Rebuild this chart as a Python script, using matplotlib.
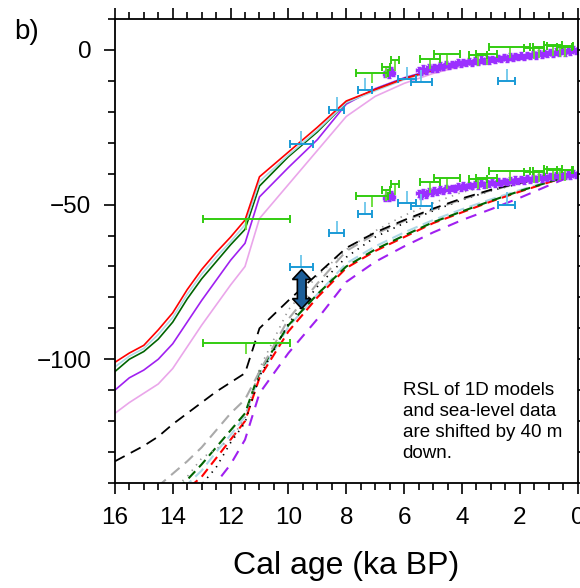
import matplotlib
matplotlib.use("Agg")
import matplotlib.pyplot as plt
import numpy as np
from matplotlib.ticker import MultipleLocator
from matplotlib.patches import Polygon

plt.rcParams["font.family"] = ["Liberation Sans", "DejaVu Sans"]
plt.rcParams["lines.scale_dashes"] = False

# model ages (ka BP)
ages = [16, 15.5, 15, 14.5, 14, 13.5, 13, 12.5, 12, 11.5, 11, 10, 9, 8, 7, 6, 5, 4, 3, 2, 1, 0]

# upper group: 3D models (solid)
red_s = [-101, -98, -95.5, -90.5, -85, -77.5, -71, -65.5, -60.5, -55, -41, -33, -25, -16.5, -12.8, -9.3, -6.6, -4.6, -3.1, -1.9, -0.9, 0]
lblue_s = [-102.5, -99, -96.5, -92, -86.5, -79, -72.5, -67, -62, -56.5, -42.5, -34, -26, -17, -13.2, -9.6, -6.9, -4.9, -3.3, -2.0, -1.0, 0]
green_s = [-104, -100, -97.5, -93.5, -88, -80.5, -74, -68.5, -63, -58, -44, -34.5, -26.5, -17, -12.8, -9.3, -6.6, -4.6, -3.1, -1.9, -0.9, 0]
purple_s = [-110, -106, -103.5, -100, -95, -88, -81, -74.5, -68, -62.5, -47.5, -38, -29, -17.5, -12.5, -9, -6.3, -4.4, -3.0, -1.8, -0.8, 0]
pink_s = [-117.5, -114, -111, -108, -103, -96, -89, -82.5, -76, -70, -54.5, -43.5, -32.5, -21.5, -15, -10.8, -7.6, -5.2, -3.5, -2.2, -1.1, -0.3]

# lower group: 1D models, shifted 40 m down (dashed / dotted)
red_d = [-158, -155, -152, -149, -146, -142, -138, -132, -126, -120, -106, -91, -80, -70.5, -65, -60.5, -56, -52.5, -49, -45.8, -42.8, -40]
lblue_d = [-157, -154, -151, -148, -144.5, -140.5, -136, -130, -124.5, -118.5, -105, -89.5, -79, -69, -63.5, -59, -55, -51.5, -48.3, -45.3, -42.5, -40]
green_d = [-156, -153, -150, -147, -143, -139, -134, -128.5, -123, -117.5, -104, -89, -79, -70, -64.5, -60, -55.7, -52.2, -48.8, -45.6, -42.7, -40]
purple_d = [-165, -162, -158, -155, -152, -148, -144, -140, -134, -126, -111, -98, -87, -75, -68.5, -63.5, -59, -55, -51.5, -47.8, -43.8, -40]
black_dash = [-133, -130.5, -128, -125, -121, -117.5, -114, -110.5, -107.5, -104.5, -90, -81, -72.5, -64, -59, -55, -51.3, -48, -45.2, -43, -41.3, -40]
gray_dash = [-152, -149, -145.5, -141, -137, -133, -128.5, -123, -117.5, -113, -104, -87, -75.5, -65, -59.5, -55.3, -51.6, -48.3, -45.4, -43.1, -41.4, -40]
black_dot = [-158, -155, -152, -149.5, -147, -143.5, -140.5, -135, -127, -120.5, -105.5, -88.5, -76.5, -67, -60.5, -56, -52, -48.5, -45.5, -43.2, -41.5, -40]
gray_dot = [-155, -152, -149, -146, -142, -138, -132, -129, -126, -119, -103, -84, -73, -64.5, -58.5, -53.5, -49.5, -46, -43.8, -42.2, -41, -40]

# sea-level data (unshifted)
grn_age = [11.45, 7.12, 6.63, 6.32, 5.1, 4.53, 3.45, 3.15, 2.35, 1.5, 1.35, 0.85, 0.6, 0.45]
grn_rsl = [-54.7, -7.3, -5.4, -3.3, -2.8, -1.4, -1.6, -1.4, 1.0, 0.6, 0.9, 1.5, 1.3, 1.1]
grn_err = [1.5, 0.55, 0.15, 0.15, 0.35, 0.45, 0.3, 0.35, 0.7, 0.35, 0.2, 0.3, 0.45, 0.25]

blu_age = [9.55, 8.33, 7.36, 5.9, 5.4, 2.45]
blu_rsl = [-30.3, -19.3, -13.0, -9.5, -10.5, -10.0]
blu_err = [0.4, 0.25, 0.25, 0.3, 0.35, 0.3]

pur_age = [6.66, 6.58, 6.52, 6.46, 6.4, 5.5, 5.42, 5.33, 5.25, 5.15, 5.05, 4.95, 4.85, 4.75, 4.65,
           4.55, 4.45, 4.35, 4.25, 4.15, 4.05, 3.95, 3.85, 3.75, 3.65, 3.55, 3.45, 3.35, 3.25, 3.15,
           3.05, 2.95, 2.85, 2.75, 2.65, 2.55, 2.45, 2.35, 2.25, 2.15, 2.05, 1.95, 1.85, 1.75, 1.65,
           1.55, 1.45, 1.35, 1.25, 1.15, 1.05, 0.95, 0.85, 0.75, 0.65, 0.55, 0.45, 0.35, 0.25, 0.15, 0.05]
pur_rsl = [-7.8, -7.0, -7.9, -6.6, -7.4, -6.4, -7.2, -6.0, -6.8, -5.6, -6.2, -5.4, -6.0, -4.9, -5.6,
           -4.6, -5.1, -4.5, -4.8, -4.0, -4.6, -3.8, -4.3, -3.6, -4.1, -3.4, -3.8, -3.1, -3.6, -2.9,
           -3.4, -2.8, -3.3, -2.5, -3.0, -2.3, -2.8, -2.1, -2.6, -1.9, -2.4, -1.8, -2.2, -1.5, -2.0,
           -1.3, -1.8, -1.1, -1.6, -0.9, -1.4, -0.7, -1.2, -0.5, -1.0, -0.3, -0.8, -0.1, -0.6, 0.2, -0.3]

shift = -40.0

fig = plt.figure(figsize=(5.8, 5.88), dpi=100)
ax = fig.add_axes([0.198, 0.1786, 0.798, 0.789])

# upper (solid) models
ax.plot(ages, pink_s, color="#eaa6ea", lw=1.2)
ax.plot(ages, purple_s, color="#a020f0", lw=1.2)
ax.plot(ages, green_s, color="#006400", lw=1.2)
ax.plot(ages, lblue_s, color="#add8e6", lw=1.2)
ax.plot(ages, red_s, color="red", lw=1.2)

# lower (shifted) models
ax.plot(ages, purple_d, color="#a020f0", lw=1.5, dashes=(8, 6))
ax.plot(ages, lblue_d, color="#add8e6", lw=1.5, dashes=(8, 4))
ax.plot(ages, red_d, color="red", lw=1.5, dashes=(7, 4))
ax.plot(ages, green_d, color="#006400", lw=1.5, dashes=(7, 4))
ax.plot(ages, black_dot, color="black", lw=1.2, dashes=(1, 4))
ax.plot(ages, gray_dot, color="#999999", lw=1.2, dashes=(1, 4))
ax.plot(ages, gray_dash, color="#aaaaaa", lw=1.5, dashes=(8, 5))
ax.plot(ages, black_dash, color="black", lw=1.3, dashes=(8, 5))

# data, unshifted and shifted
for off in [0.0, shift]:
    g_y = [v + off for v in grn_rsl]
    b_y = [v + off for v in blu_rsl]
    p_y = [v + off for v in pur_rsl]
    ax.errorbar(pur_age, p_y, xerr=0.08, yerr=1.0, fmt="none", ecolor="#9b30ff",
                elinewidth=2.2, capsize=1.5)
    ax.vlines(grn_age, g_y, [v - 3.5 for v in g_y], color="#66dd33", lw=1.3)
    ax.errorbar(grn_age, g_y, xerr=grn_err, fmt="none", ecolor="#33cc11",
                elinewidth=1.4, capsize=3, capthick=1.4)
    ax.vlines(blu_age, b_y, [v + 4 for v in b_y], color="#6cc6ea", lw=1.3)
    ax.errorbar(blu_age, b_y, xerr=blu_err, fmt="none", ecolor="#1a9ad6",
                elinewidth=1.4, capsize=3, capthick=1.4)

# double-headed arrow (offset indicator)
arr_x, arr_top, arr_bot = 9.54, -71.0, -83.6
body_w, head_w, head_l = 0.15, 0.32, 3.2
pts = [(arr_x, arr_top), (arr_x + head_w, arr_top - head_l), (arr_x + body_w, arr_top - head_l),
       (arr_x + body_w, arr_bot + head_l), (arr_x + head_w, arr_bot + head_l), (arr_x, arr_bot),
       (arr_x - head_w, arr_bot + head_l), (arr_x - body_w, arr_bot + head_l),
       (arr_x - body_w, arr_top - head_l), (arr_x - head_w, arr_top - head_l)]
ax.add_patch(Polygon(pts, closed=True, facecolor="#1c5e99", edgecolor="black", lw=1.2, zorder=5))

ax.set_xlim(16, 0)
ax.set_ylim(-140, 10)
ax.xaxis.set_major_locator(MultipleLocator(2))
ax.xaxis.set_minor_locator(MultipleLocator(0.5))
ax.yaxis.set_major_locator(MultipleLocator(50))
ax.yaxis.set_minor_locator(MultipleLocator(10))
ax.tick_params(which="both", direction="out", top=True, right=True, width=1.2, labelsize=17.5)
ax.tick_params(which="major", length=8, pad=9)
ax.tick_params(which="minor", length=5)
for s in ax.spines.values():
    s.set_linewidth(1.3)

ax.set_xlabel("Cal age (ka BP)", fontsize=23, labelpad=16)

ax.text(0.622, 0.218, "RSL of 1D models\nand sea-level data\nare shifted by 40 m\ndown.",
        transform=ax.transAxes, fontsize=13.5, va="top", ha="left", linespacing=1.3)
fig.text(0.025, 0.967, "b)", fontsize=20, va="top", ha="left")

fig.savefig("out.png", dpi=100)
